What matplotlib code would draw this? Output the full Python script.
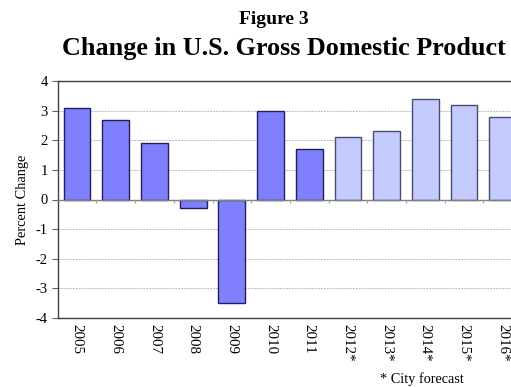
import numpy as np
import matplotlib.pyplot as plt

# GDP growth by year, actuals then city forecast
years = ['2005', '2006', '2007', '2008', '2009', '2010', '2011',
         '2012*', '2013*', '2014*', '2015*', '2016*']
change = [3.1, 2.7, 1.9, -0.3, -3.5, 3.0, 1.7, 2.1, 2.3, 3.4, 3.2, 2.8]
is_forecast = [False] * 7 + [True] * 5

plt.rcParams['font.family'] = ['Liberation Serif', 'DejaVu Serif']

fig = plt.figure(figsize=(5.11, 3.87), dpi=100)
# plot area runs past the right edge of the figure
ax = fig.add_axes([57.7 / 511, 1 - 318 / 387, 464.4 / 511, 237 / 387])

x = np.arange(len(years))
face = ['#C3CBFF' if f else '#8080FF' for f in is_forecast]
edge = ['#4A4A70' if f else '#20205A' for f in is_forecast]
ax.bar(x, change, width=0.69, color=face, edgecolor=edge, linewidth=1.0, zorder=3)

ax.set_xlim(-0.5, len(years) - 0.5)
ax.set_ylim(-4, 4)
ax.set_yticks(range(-4, 5))
ax.set_yticklabels([str(v) for v in range(-4, 5)], fontsize=10.5)
for v in range(-3, 4):
    if v != 0:
        ax.axhline(v, color='#BBBBBB', linewidth=0.7, linestyle=(0, (2, 1)), zorder=1)
ax.axhline(0, color='#808080', linewidth=1.0, zorder=4)

# small tick marks hanging below the zero line between categories
ax.vlines(x[1:] - 0.5, 0, -0.12, color='#A0A0A0', linewidth=0.8, zorder=4)

ax.set_xticks(x)
ax.set_xticklabels(years, rotation=270, fontsize=10.8)
ax.tick_params(axis='x', length=0, pad=4)
ax.tick_params(axis='y', length=4, width=0.8, color='#606060', pad=3)

for side in ['left', 'top', 'bottom']:
    ax.spines[side].set_color('#404040')
    ax.spines[side].set_linewidth(1.0)
ax.spines['right'].set_visible(False)

ax.set_ylabel('Percent Change', fontsize=10.4, labelpad=5)

fig.text(273.5 / 511, 1 - 19 / 387, 'Figure 3', ha='center', va='center',
         fontsize=14, fontweight='bold')
fig.text(283.5 / 511, 1 - 48 / 387, 'Change in U.S. Gross Domestic Product',
         ha='center', va='center', fontsize=18.8, fontweight='bold')
fig.text(422 / 511, 1 - 379 / 387, '* City forecast', ha='center', va='center',
         fontsize=10.3)

fig.savefig('out.png', dpi=100)
